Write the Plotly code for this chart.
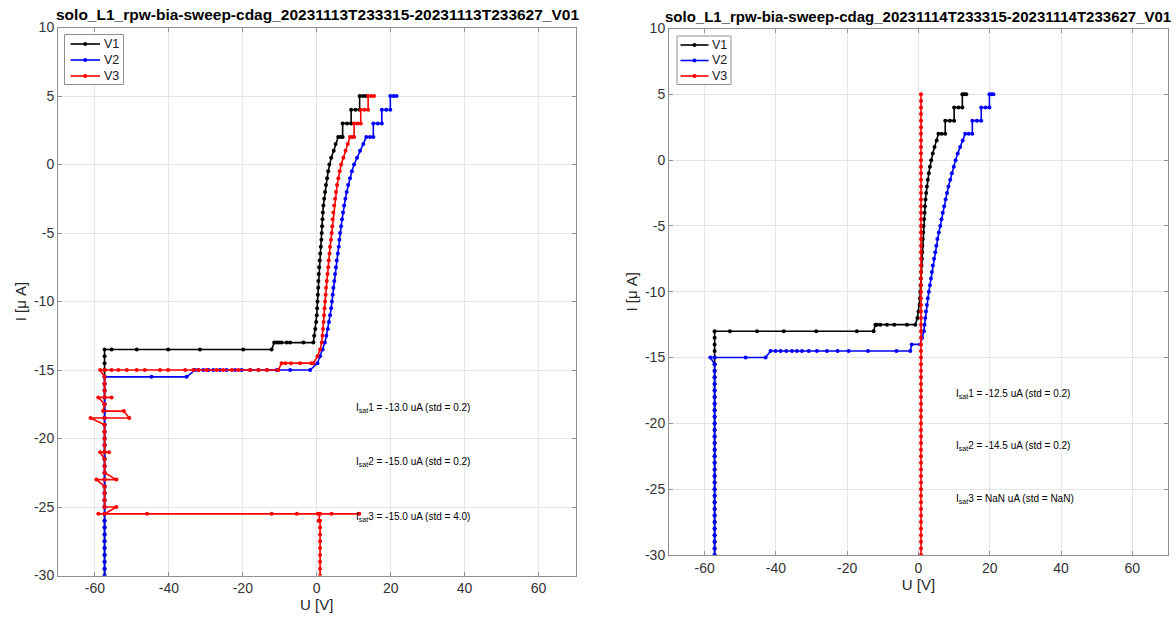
import plotly.graph_objects as go

# ---------------- Left panel (20231113) ----------------
I_L1 = [-30, -29.5, -29, -28.5, -28, -27.5, -27, -26.5, -26, -25.5,
        -25, -24.5, -24, -23.5, -23, -22.5, -22, -21.5, -21, -20.5,
        -20, -19.5, -19, -18.5, -18, -17.5, -17, -16.5, -16, -15.5,
        -15, -14.5, -14, -13.5, -13.5, -13.5, -13.5, -13.5, -13.5, -13.5,
        -13, -13, -13, -13, -13, -13, -13, -13,
        -12.5, -12, -11.5, -11, -10.5, -10, -9.5, -9, -8.5, -8,
        -7.5, -7, -6.5, -6, -5.5, -5, -4.5, -4, -3.5, -3,
        -2.5, -2, -1.5, -1, -0.5, 0, 0.5, 1, 1.5,
        2, 2, 2, 3, 3, 3, 4, 4, 4, 5, 5, 5]
U_L1 = [-57.4, -57.4, -57.4, -57.4, -57.4, -57.4, -57.4, -57.4, -57.4, -57.4,
        -57.4, -57.4, -57.4, -57.4, -57.4, -57.4, -57.4, -57.4, -57.4, -57.4,
        -57.4, -57.4, -57.4, -57.4, -57.4, -57.4, -57.4, -57.4, -57.4, -57.4,
        -57.4, -57.4, -57.4, -57.4, -55.5, -48.7, -40.2, -31.6, -19.9, -12.2,
        -11.5, -10.8, -10.2, -9.5, -8.1, -7.2, -3.6, -0.9,
        -0.7, -0.4, -0.15, 0.0, 0.1, 0.2, 0.3, 0.4, 0.45, 0.55,
        0.65, 0.8, 0.95, 1.1, 1.25, 1.35, 1.45, 1.55, 1.65, 1.8,
        2.0, 2.25, 2.5, 2.8, 3.1, 3.4, 3.9, 4.6, 5.1,
        5.8, 6.4, 7.0, 7.0, 8.2, 9.3, 9.3, 10.5, 11.6, 11.6, 12.5, 13.3]

I_L2 = [-30, -29.5, -29, -28.5, -28, -27.5, -27, -26.5, -26, -25.5,
        -25, -24.5, -24, -23.5, -23, -22.5, -22, -21.5, -21, -20.5,
        -20, -19.5, -19, -18.5, -18, -17.5, -17, -16.5, -16, -15.5,
        -15.5, -15.5,
        -15, -15, -15, -15, -15, -15, -15, -15, -15, -15, -15, -15, -15, -15, -15,
        -14.5, -14, -13.5, -13, -12.5, -12, -11.5, -11, -10.5, -10,
        -9.5, -9, -8.5, -8, -7.5, -7, -6.5, -6, -5.5, -5,
        -4.5, -4, -3.5, -3, -2.5, -2, -1.5, -1, -0.5, 0,
        0.5, 1, 1.5,
        2, 2, 2, 3, 3, 3, 4, 4, 4, 5, 5, 5]
U_L2 = [-57.4, -57.4, -57.4, -57.4, -57.4, -57.4, -57.4, -57.4, -57.4, -57.4,
        -57.4, -57.4, -57.4, -57.4, -57.4, -57.4, -57.4, -57.4, -57.4, -57.4,
        -57.4, -57.4, -57.4, -57.4, -57.4, -57.4, -57.4, -57.4, -57.4, -57.4,
        -44.7, -35.2,
        -32.9, -32.0, -30.7, -29.3, -28.0, -26.2, -24.4, -22.1, -20.3, -18.0, -15.8, -13.5, -10.8, -7.2, -1.8,
        0.2, 0.9, 1.6, 2.2, 2.6, 3.0, 3.3, 3.6, 3.9, 4.1,
        4.3, 4.5, 4.75, 4.95, 5.2, 5.4, 5.7, 5.95, 6.1, 6.3,
        6.6, 6.85, 7.1, 7.4, 7.75, 8.1, 8.5, 9.0, 9.5, 10.1,
        10.9, 11.7, 12.6,
        13.4, 14.4, 15.3, 15.3, 16.5, 17.6, 17.6, 18.8, 19.9, 19.9, 20.8, 21.6]

I_L3 = [-30, -29.5, -29, -28.5, -28, -27.5, -27, -26.5, -26, -26,
        -25.5, -25.5, -25.5, -25.5, -25.5, -25.5, -25.5, -25.5, -25.5,
        -25, -25,
        -24.5, -24, -23.5,
        -23, -23, -23,
        -22.5, -22, -21.5,
        -21, -21, -21,
        -20.5, -20, -19.5, -19,
        -18.5, -18.5, -18.5,
        -18, -18,
        -17.5,
        -17, -17, -17,
        -16.5, -16, -15.5,
        -15, -15, -15, -15, -15, -15, -15, -15, -15, -15, -15,
        -15, -15, -15, -15, -15, -15, -15, -15, -15, -15,
        -14.5, -14.5, -14.5, -14.5, -14.5, -14.5,
        -14, -13.5, -13, -12.5, -12, -11.5, -11, -10.5, -10,
        -9.5, -9, -8.5, -8, -7.5, -7, -6.5, -6, -5.5, -5,
        -4.5, -4, -3.5, -3, -2.5, -2, -1.5, -1, -0.5, 0,
        0.5, 1, 1.5,
        2, 2, 2, 3, 3, 3, 4, 4, 4, 5, 5, 5]
U_L3 = [0.9, 0.9, 0.9, 0.9, 0.9, 0.9, 0.9, 0.9, 0.9, 0.5,
        0.9, 4.0, 11.5, 0.3, -5.4, -12.2, -45.9, -59.1, -57.4,
        -54.2, -57.4,
        -57.4, -57.4, -57.4,
        -59.6, -57.4, -54.2,
        -57.4, -57.4, -57.4,
        -58.6, -56.2, -57.4,
        -57.4, -57.4, -57.4, -57.4,
        -61.2, -57.4, -50.7,
        -52.2, -57.8,
        -57.4,
        -59.1, -55.5, -57.4,
        -57.4, -57.4, -57.4,
        -58.6, -57.3, -55.5, -53.7, -51.4, -48.7, -46.5, -42.4, -40.2, -35.6, -33.4,
        -32.0, -29.8, -27.1, -25.3, -23.0, -21.2, -18.0, -15.8, -13.5, -10.4,
        -9.5, -8.5, -7.0, -4.5, -1.5, -0.9,
        0.2, 0.9, 1.35, 1.55, 1.7, 1.85, 1.98, 2.1, 2.25,
        2.4, 2.5, 2.7, 2.9, 3.1, 3.25, 3.45, 3.6, 3.85, 4.05,
        4.2, 4.3, 4.5, 4.7, 4.95, 5.2, 5.5, 5.85, 6.2, 6.6,
        7.2, 7.8, 8.4,
        9.0, 9.6, 10.1, 10.1, 11.0, 11.9, 11.9, 12.9, 13.9, 13.9, 14.7, 15.5]

# ---------------- Right panel (20231114) ----------------
I_R1 = [-30, -29.5, -29, -28.5, -28, -27.5, -27, -26.5, -26, -25.5,
        -25, -24.5, -24, -23.5, -23, -22.5, -22, -21.5, -21, -20.5,
        -20, -19.5, -19, -18.5, -18, -17.5, -17, -16.5, -16, -15.5,
        -15, -14.5, -14, -13.5,
        -13, -13, -13, -13, -13, -13, -13,
        -12.5, -12.5, -12.5, -12.5, -12.5, -12.5, -12.5,
        -12, -11.5, -11, -10.5, -10, -9.5, -9, -8.5, -8, -7.5,
        -7, -6.5, -6, -5.5, -5, -4.5, -4, -3.5, -3, -2.5,
        -2, -1.5, -1, -0.5, 0, 0.5, 1, 1.5,
        2, 2, 2, 3, 3, 3, 4, 4, 4, 5, 5, 5]
U_R1 = [-57.2, -57.2, -57.2, -57.2, -57.2, -57.2, -57.2, -57.2, -57.2, -57.2,
        -57.2, -57.2, -57.2, -57.2, -57.2, -57.2, -57.2, -57.2, -57.2, -57.2,
        -57.2, -57.2, -57.2, -57.2, -57.2, -57.2, -57.2, -57.2, -57.2, -57.2,
        -57.2, -57.2, -57.2, -57.2,
        -57.2, -52.9, -45.3, -37.8, -28.7, -17.3, -12.6,
        -12.1, -11.65, -10.7, -8.85, -6.8, -3.25, -0.9,
        -0.3, 0.0, 0.3, 0.4, 0.5, 0.6, 0.66, 0.75, 0.85, 0.95,
        1.03, 1.1, 1.2, 1.3, 1.4, 1.55, 1.7, 1.8, 1.96, 2.15,
        2.35, 2.6, 2.9, 3.2, 3.56, 4.0, 4.5, 5.1,
        5.6, 6.5, 7.5, 7.5, 8.8, 10.0, 10.0, 11.2, 12.3, 12.3, 12.8, 13.4]

I_R2 = [-30, -29.5, -29, -28.5, -28, -27.5, -27, -26.5, -26, -25.5,
        -25, -24.5, -24, -23.5, -23, -22.5, -22, -21.5, -21, -20.5,
        -20, -19.5, -19, -18.5, -18, -17.5, -17, -16.5, -16, -15.5,
        -15, -15, -15, -15,
        -14.5, -14.5, -14.5, -14.5, -14.5, -14.5, -14.5, -14.5, -14.5, -14.5,
        -14.5, -14.5, -14.5, -14.5, -14.5,
        -14, -14,
        -13.5, -13, -12.5, -12, -11.5, -11, -10.5, -10,
        -9.5, -9, -8.5, -8, -7.5, -7, -6.5, -6, -5.5, -5,
        -4.5, -4, -3.5, -3, -2.5, -2, -1.5, -1, -0.5, 0,
        0.5, 1, 1.5,
        2, 2, 2, 3, 3, 3, 4, 4, 4, 5, 5, 5]
U_R2 = [-57.2, -57.2, -57.2, -57.2, -57.2, -57.2, -57.2, -57.2, -57.2, -57.2,
        -57.2, -57.2, -57.2, -57.2, -57.2, -57.2, -57.2, -57.2, -57.2, -57.2,
        -57.2, -57.2, -57.2, -57.2, -57.2, -57.2, -57.2, -57.2, -57.2, -57.2,
        -58.4, -57.2, -48.5, -42.9,
        -41.5, -40.1, -38.7, -37.1, -35.5, -34.1, -32.7, -30.8, -28.5, -25.7,
        -22.7, -19.6, -14.2, -6.2, -2.3,
        -1.9, 0.5,
        1.0, 1.5, 1.7, 1.9, 2.1, 2.35, 2.6, 2.9,
        3.2, 3.5, 3.75, 4.0, 4.35, 4.7, 5.0, 5.3, 5.7, 6.1,
        6.45, 6.8, 7.2, 7.6, 8.0, 8.4, 8.9, 9.35, 9.9, 10.4,
        11.0, 11.7, 12.4,
        13.1, 14.1, 15.1, 15.1, 16.4, 17.6, 17.6, 18.8, 19.9, 19.9, 20.5, 21.0]

I_R3 = [-30, -29.5, -29, -28.5, -28, -27.5, -27, -26.5, -26, -25.5,
        -25, -24.5, -24, -23.5, -23, -22.5, -22, -21.5, -21, -20.5,
        -20, -19.5, -19, -18.5, -18, -17.5, -17, -16.5, -16, -15.5,
        -15, -14.5, -14, -13.5, -13, -12.5, -12, -11.5, -11, -10.5,
        -10, -9.5, -9, -8.5, -8, -7.5, -7, -6.5, -6, -5.5,
        -5, -4.5, -4, -3.5, -3, -2.5, -2, -1.5, -1, -0.5,
        0, 0.5, 1, 1.5, 2, 2.5, 3, 3.5, 4, 4.5, 5]
U_R3 = [0.7, 0.7, 0.7, 0.7, 0.7, 0.7, 0.7, 0.7, 0.7, 0.7,
        0.7, 0.7, 0.7, 0.7, 0.7, 0.7, 0.7, 0.7, 0.7, 0.7,
        0.7, 0.7, 0.7, 0.7, 0.7, 0.7, 0.7, 0.7, 0.7, 0.7,
        0.7, 0.7, 0.7, 0.7, 0.7, 0.7, 0.7, 0.7, 0.7, 0.7,
        0.7, 0.7, 0.7, 0.7, 0.7, 0.7, 0.7, 0.7, 0.7, 0.7,
        0.7, 0.7, 0.7, 0.7, 0.7, 0.7, 0.7, 0.7, 0.7, 0.7,
        0.7, 0.7, 0.7, 0.7, 0.7, 0.7, 0.7, 0.7, 0.7, 0.7, 0.7]

SERIES_NAMES = ["V1", "V2", "V3"]
SERIES_COLORS = ["#000000", "#0000ff", "#ff0000"]

TITLE_L = "solo_L1_rpw-bia-sweep-cdag_20231113T233315-20231113T233627_V01"
TITLE_R = "solo_L1_rpw-bia-sweep-cdag_20231114T233315-20231114T233627_V01"
ISAT_L = ["-13.0 uA (std = 0.2)", "-15.0 uA (std = 0.2)", "-15.0 uA (std = 4.0)"]
ISAT_R = ["-12.5 uA (std = 0.2)", "-14.5 uA (std = 0.2)", "NaN uA (std = NaN)"]
ISAT_Y = [-17.75, -21.75, -25.75]
ISAT_X = 10

X_TICKS = [-60, -40, -20, 0, 20, 40, 60]
X_TICKTEXT = ["-60", "-40", "-20", "0", "20", "40", "60"]
Y_TICKS = [10, 5, 0, -5, -10, -15, -20, -25, -30]
Y_TICKTEXT = ["10", "5", "0", "-5", "-10", "-15", "-20", "-25", "-30"]

W, H = 1176, 619
FONT = "Liberation Sans, Arial, Helvetica, sans-serif"
AXCOL = "#8f8f8f"

fig = go.Figure()

left = [(U_L1, I_L1), (U_L2, I_L2), (U_L3, I_L3)]
right = [(U_R1, I_R1), (U_R2, I_R2), (U_R3, I_R3)]
for k, (u, i) in enumerate(left):
    assert len(u) == len(i)
    fig.add_trace(go.Scatter(x=u, y=i, mode="lines+markers", name=SERIES_NAMES[k],
                             line=dict(color=SERIES_COLORS[k], width=1.6),
                             marker=dict(color=SERIES_COLORS[k], size=4),
                             xaxis="x", yaxis="y", showlegend=False))
for k, (u, i) in enumerate(right):
    assert len(u) == len(i)
    fig.add_trace(go.Scatter(x=u, y=i, mode="lines+markers", name=SERIES_NAMES[k],
                             line=dict(color=SERIES_COLORS[k], width=1.6),
                             marker=dict(color=SERIES_COLORS[k], size=4),
                             xaxis="x2", yaxis="y2", showlegend=False))


def px_x(p):
    return p / W


def px_y(p):
    return (H - p) / H


axis_common = dict(showgrid=True, gridcolor="#e6e6e6", gridwidth=1, zeroline=False,
                   showline=True, linecolor=AXCOL, linewidth=1, mirror="ticks",
                   ticks="inside", ticklen=4, tickcolor=AXCOL, automargin=False,
                   tickfont=dict(size=14, color="#333333", family=FONT))

fig.update_layout(
    width=W, height=H, margin=dict(l=0, r=0, t=0, b=0, autoexpand=False),
    paper_bgcolor="white", plot_bgcolor="white",
    font=dict(family=FONT, color="#262626"),
    showlegend=False,
    xaxis=dict(domain=[px_x(58), px_x(575.5)], range=[-70, 70], tickvals=X_TICKS, ticktext=X_TICKTEXT,
               anchor="y", title=dict(text="U [V]", font=dict(size=15), standoff=4), **axis_common),
    yaxis=dict(domain=[px_y(575.5), px_y(27.5)], range=[-30, 10], tickvals=Y_TICKS, ticktext=Y_TICKTEXT,
               anchor="x", title=dict(text="I [μ A]", font=dict(size=15), standoff=3), **axis_common),
    xaxis2=dict(domain=[px_x(669), px_x(1168)], range=[-70, 70], tickvals=X_TICKS, ticktext=X_TICKTEXT,
                anchor="y2", title=dict(text="U [V]", font=dict(size=15), standoff=4), **axis_common),
    yaxis2=dict(domain=[px_y(555), px_y(28.5)], range=[-30, 10], tickvals=Y_TICKS, ticktext=Y_TICKTEXT,
                anchor="x2", title=dict(text="I [μ A]", font=dict(size=15), standoff=3), **axis_common),
)

annotations = [
    dict(text="<b>" + TITLE_L + "</b>", x=px_x(317), y=px_y(15), xref="paper", yref="paper",
         showarrow=False, xanchor="center", yanchor="middle",
         font=dict(size=15.5, color="#000000", family=FONT)),
    dict(text="<b>" + TITLE_R + "</b>", x=px_x(918), y=px_y(17), xref="paper", yref="paper",
         showarrow=False, xanchor="center", yanchor="middle",
         font=dict(size=15, color="#000000", family=FONT)),
]
for n in range(3):
    annotations.append(dict(text=f"I<sub>sat</sub>{n+1} = {ISAT_L[n]}", x=ISAT_X, y=ISAT_Y[n],
                            xref="x", yref="y", showarrow=False, xanchor="left", yanchor="middle",
                            font=dict(size=10, color="#000000", family=FONT)))
    annotations.append(dict(text=f"I<sub>sat</sub>{n+1} = {ISAT_R[n]}", x=ISAT_X, y=ISAT_Y[n],
                            xref="x2", yref="y2", showarrow=False, xanchor="left", yanchor="middle",
                            font=dict(size=10, color="#000000", family=FONT)))

# Legend boxes (MATLAB-style), built from the series names/colours
shapes = []
legend_specs = [
    dict(box=(64.5, 34.5, 123.5, 84.5), lx0=70.5, lx1=100, tx=101.5, rows=(44, 60, 76)),
    dict(box=(677, 36, 731, 84.5), lx0=680.5, lx1=708.5, tx=709.5, rows=(45, 60.5, 76)),
]
for spec in legend_specs:
    bx0, by0, bx1, by1 = spec["box"]
    shapes.append(dict(type="rect", xref="paper", yref="paper", layer="above",
                       x0=px_x(bx0), x1=px_x(bx1), y0=px_y(by1), y1=px_y(by0),
                       line=dict(color=AXCOL, width=1), fillcolor="white"))
    for k, ry in enumerate(spec["rows"]):
        col = SERIES_COLORS[k]
        shapes.append(dict(type="line", xref="paper", yref="paper", layer="above",
                           x0=px_x(spec["lx0"]), x1=px_x(spec["lx1"]), y0=px_y(ry), y1=px_y(ry),
                           line=dict(color=col, width=1.6)))
        cx = (spec["lx0"] + spec["lx1"]) / 2
        shapes.append(dict(type="circle", xref="paper", yref="paper", layer="above",
                           x0=px_x(cx - 2), x1=px_x(cx + 2), y0=px_y(ry + 2), y1=px_y(ry - 2),
                           line=dict(color=col, width=0), fillcolor=col))
        annotations.append(dict(text=SERIES_NAMES[k], x=px_x(spec["tx"]), y=px_y(ry),
                                xref="paper", yref="paper", showarrow=False,
                                xanchor="left", yanchor="middle",
                                font=dict(size=12.5, color="#1a1a1a", family=FONT)))

fig.update_layout(annotations=annotations, shapes=shapes)

fig.write_html("out.html")
